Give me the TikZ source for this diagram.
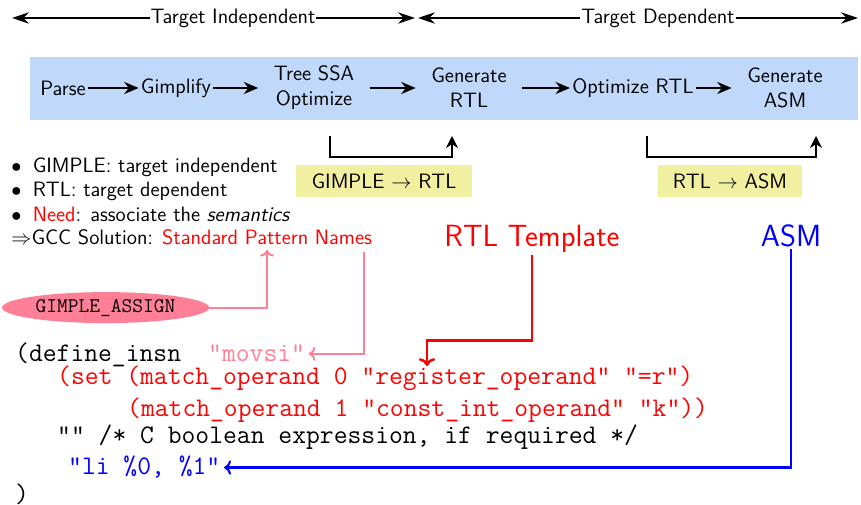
\documentclass[tikz,border=0pt]{standalone}
\usepackage{tikz}
\usetikzlibrary{positioning,arrows.meta,shapes.geometric}
\usepackage{xcolor}
\definecolor{bandblue}{RGB}{192,216,250}
\definecolor{passyellow}{RGB}{240,240,160}
\definecolor{pnkred}{RGB}{255,128,150}

\begin{document}
\begin{tikzpicture}[
  font=\sffamily\fontsize{14.8}{17.8}\selectfont,
  stage/.style={align=center, inner sep=1.5pt},
  wide/.style={stage, inner xsep=11pt},
  pass/.style={fill=passyellow, minimum height=0.8cm, inner sep=0pt},
  arr/.style={-{Stealth[length=3.6mm,width=3mm]}, line width=2.1pt},
  span/.style={-{Stealth[length=4.2mm,width=2.8mm]}, line width=1.7pt},
  brk/.style={-{Stealth[length=3mm,width=3mm]}, line width=2.1pt},
  big/.style={font=\sffamily\fontsize{21.8}{26}\selectfont, inner sep=1pt, anchor=base},
  code/.style={font=\ttfamily\fontsize{19.1}{23}\selectfont, anchor=base west, inner xsep=2.5pt, inner ysep=0pt},
  txt/.style={anchor=base west, inner sep=0pt},
  link/.style={->, line width=1.4pt},
]
  \useasboundingbox (0,0) rectangle (21.525,-12.625);

  \node[inner sep=0.5pt] (indep) at (5.825,-0.45) {Target Independent};
  \node[inner sep=0.5pt] (dep) at (16.45,-0.45) {Target Dependent};
  \coordinate (indepL) at (0.3,-0.45);
  \coordinate (indepR) at (10.375,-0.45);
  \coordinate (depL) at (10.45,-0.45);
  \coordinate (depR) at (21.45,-0.45);
  \draw[span] (indep) -- (indepL);
  \draw[span] (indep) -- (indepR);
  \draw[span] (dep) -- (depL);
  \draw[span] (dep) -- (depR);

  \fill[bandblue] (0.75,-1.425) rectangle (21.45,-3.0);
  \node[stage] (parse) at (1.575,-2.2) {Parse};
  \node[stage] (gimplify) at (4.4,-2.2) {Gimplify};
  \node[wide] (treessa) at (7.85,-2.2) {Tree SSA\\Optimize};
  \node[wide] (genrtl) at (11.725,-2.2) {Generate\\RTL};
  \node[stage] (optrtl) at (15.825,-2.2) {Optimize RTL};
  \node[wide] (genasm) at (19.625,-2.2) {Generate\\ASM};

  \draw[arr] (parse) -- (gimplify);
  \draw[arr] (gimplify) -- (treessa);
  \draw[arr] (treessa) -- (genrtl);
  \draw[arr] (genrtl) -- (optrtl);
  \draw[arr] (optrtl) -- (genasm);

  \coordinate (g2rA) at (8.25,-3.4);
  \coordinate (g2rB) at (11.3,-3.4);
  \coordinate (r2aA) at (16.175,-3.4);
  \coordinate (r2aB) at (20.4,-3.4);
  \draw[brk] (g2rA) -- ++(0,-0.525) -| (g2rB);
  \draw[brk] (r2aA) -- ++(0,-0.525) -| (r2aB);
  \node[pass, minimum width=4.4cm] (g2r) at (9.6,-4.525) {GIMPLE $\rightarrow$ RTL};
  \node[pass, minimum width=3.6cm] (r2a) at (18.25,-4.525) {RTL $\rightarrow$ ASM};

  \node[txt] (pt1) at (0.275,-4.325) {$\bullet$\hspace{0.55em}GIMPLE: target independent};
  \node[txt] (pt2) at (0.275,-4.925) {$\bullet$\hspace{0.55em}RTL: target dependent};
  \node[txt] (pt3) at (0.275,-5.55) {$\bullet$\hspace{0.55em}\textcolor{red}{Need}: associate the \textit{semantics}};
  \node[txt] (sol) at (0.275,-6.125) {$\Rightarrow$GCC Solution: \textcolor{red}{Standard Pattern Names}};

  \node[big, red] (tmpl) at (13.3,-6.175) {RTL Template};
  \node[big, blue] (asmlbl) at (19.775,-6.175) {ASM};

  \node[ellipse, fill=pnkred, minimum width=5.175cm, minimum height=0.775cm, inner sep=0pt,
        font=\ttfamily\fontsize{14.85}{17}\selectfont] (assign) at (2.64,-7.69) {GIMPLE\_ASSIGN};

  \node[code] (insn) at (0.285,-9.05) {(define\_insn};
  \node[code, pnkred] (movsi) at (5.11,-9.05) {"movsi"};
  \node[code, red] (setln) at (1.335,-9.625) {(set (match\_operand 0 "register\_operand" "=r")};
  \node[code, red] (opln) at (3.085,-10.425) {(match\_operand 1 "const\_int\_operand" "k"))};
  \node[code] (cond) at (1.335,-11.1) {"" /* C boolean expression, if required */};
  \node[code, blue] (asmstr) at (1.61,-11.875) {"li \%0, \%1"};
  \node[code] (close) at (0.285,-12.575) {)};

  \coordinate (patP) at (6.675,-6.25);
  \coordinate (patN) at (9.1,-6.3);
  \coordinate (regtip) at (10.675,-9.15);
  \draw[link, pnkred] (assign.east) -| (patP);
  \draw[link, pnkred] (patN) |- (movsi.east);
  \draw[link, red, line width=1.8pt] (tmpl.south) -- ++(0,-2.14) -| (regtip);
  \draw[link, blue, line width=1.5pt] (asmlbl.south) |- (asmstr.east);
\end{tikzpicture}
\end{document}
